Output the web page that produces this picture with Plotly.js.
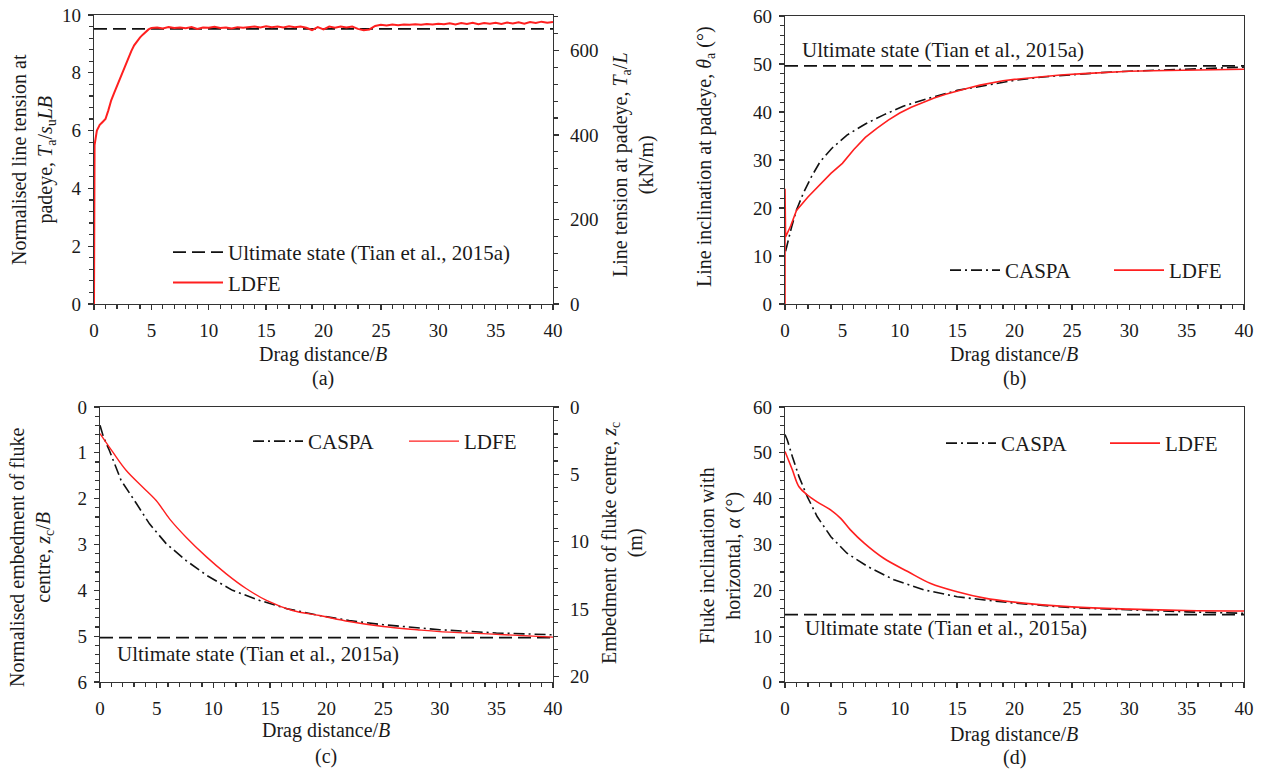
<!DOCTYPE html>
<html><head><meta charset="utf-8">
<script src="https://cdn.plot.ly/plotly-3.0.1.min.js"></script>
<style>html,body{margin:0;padding:0;background:#fff}#chart{width:1263px;height:771px}</style>
</head><body><div id="chart"></div>
<script>
// ---------- data ----------
const limitX = [0, 40];
// (a) line tension at padeye
const ultimateTensionA = 9.52;
const dragA_ldfe = [0,0,0.05,0.25,0.5,0.75,1.0,1.25,1.5,1.75,2.0,2.25,2.5,2.75,3.0,3.25,3.5,3.75,4.0,4.25,4.5,4.75,5.0,
  5.5,6,6.5,7,7.5,8,8.5,9,9.5,10,10.5,11,11.5,12,12.5,13,13.5,14,14.5,15,15.5,16,16.5,17,17.5,18,18.5,19,19.5,20,
  20.5,21,21.5,22,22.5,23,23.5,24,24.5,25,25.5,26,26.5,27,27.5,28,28.5,29,29.5,30,30.5,31,31.5,32,32.5,33,33.5,34,
  34.5,35,35.5,36,36.5,37,37.5,38,38.5,39,39.5,40];
const tensionA_ldfe = [0,5.45,5.5,6.0,6.2,6.3,6.4,6.7,7.05,7.3,7.55,7.8,8.05,8.3,8.55,8.75,8.95,9.1,9.22,9.32,9.42,9.5,9.55,
  9.57,9.53,9.58,9.55,9.57,9.54,9.58,9.52,9.57,9.56,9.59,9.55,9.57,9.53,9.58,9.56,9.59,9.6,9.57,9.61,9.58,9.6,9.57,9.61,9.58,9.6,9.56,9.48,9.58,9.5,
  9.6,9.56,9.6,9.57,9.6,9.52,9.47,9.5,9.62,9.66,9.64,9.67,9.65,9.67,9.66,9.68,9.66,9.69,9.67,9.7,9.68,9.71,9.67,9.72,9.69,9.73,9.68,9.72,
  9.7,9.73,9.69,9.74,9.71,9.75,9.7,9.76,9.72,9.77,9.73,9.76];
// (b) line inclination at padeye
const ultimateThetaB = 49.6;
const dragB_caspa = [0.05,0.3,0.58,1.0,1.6,2.3,3.05,4.07,5.4,7.0,8.6,10.3,12.6,15,17.3,20,22.5,25,27.5,30,32.5,35,37.5,40];
const thetaB_caspa = [11,13.5,16.1,19.6,23.1,26.5,29.6,32.4,35.2,37.5,39.4,41.2,42.9,44.5,45.5,46.6,47.3,47.8,48.2,48.5,48.75,48.95,49.15,49.35];
const dragB_ldfe = [0,0,0.05,0.5,1,2,3,4,5,6,7,8,9,10,11,12,13,14,15,16,17,18,19,20,22,24,26,28,30,32,34,36,38,40];
const thetaB_ldfe = [0,24,14,16.3,19.5,22.3,24.8,27.2,29.3,32.2,34.7,36.6,38.3,39.8,41.0,42.0,42.9,43.7,44.4,45.0,45.6,46.1,46.5,46.8,47.3,47.7,48.0,48.3,48.5,48.6,48.7,48.8,48.9,48.9];
// (c) normalised embedment of fluke centre
const ultimateDepthC = 5.03;
const dragC_caspa = [0,0.3,0.83,1.86,3.2,4.37,5.84,7.6,9.4,11.7,14.1,16.5,19.4,22,25,28,30,35,40];
const depthC_caspa = [0.4,0.65,0.95,1.6,2.1,2.55,2.98,3.35,3.67,4.0,4.22,4.4,4.55,4.66,4.75,4.82,4.86,4.93,4.97];
const dragC_ldfe = [0,1.12,2.3,3.78,4.96,6.14,7.6,9.4,11.15,12.9,14.7,17,19.4,22,25,28,30,35,40];
const depthC_ldfe = [0.58,0.98,1.38,1.75,2.04,2.44,2.84,3.27,3.64,3.96,4.22,4.44,4.55,4.68,4.79,4.86,4.9,4.96,5.02];
// (d) fluke inclination with horizontal
const ultimateAlphaD = 14.7;
const dragD_caspa = [0,0.2,0.64,1.22,1.95,2.8,4.0,5.4,7.2,9.5,12.1,15,17.4,20,25,30,35,40];
const alphaD_caspa = [54,52.8,49.2,44.8,40.4,36.1,31.7,28.1,25.2,22.3,20.1,18.6,17.9,17.2,16.2,15.7,15.3,15.0];
const dragD_ldfe = [0,0.64,1.22,1.95,2.8,4.0,4.85,5.7,6.9,8.6,10.7,12.7,15,17.4,19.7,25,30,35,40];
const alphaD_ldfe = [50.3,46.3,42.6,40.8,39.3,37.5,35.7,33.2,30.3,27.0,24.1,21.5,19.7,18.3,17.5,16.4,15.9,15.6,15.5];
// axis ranges
const rangeA = [0, 10], rangeA2 = [0, 684];
const rangeB = [0, 60];
const rangeC = [6, 0], rangeC2 = [20.4, 0];
const rangeD = [0, 60];

// ---------- styling ----------
const F = 'Liberation Serif, Times New Roman, serif';
const TXT = '#1a1a1a';
const AX = '#333';
const RED = '#ff1f1f';
const W = 1263, H = 771;
const px = v => v / W, py = v => 1 - v / H;

function axis(o) {
  return Object.assign({
    showline: true, linecolor: AX, linewidth: 1.3, ticks: 'outside', ticklen: 5, tickwidth: 1.3, tickcolor: AX,
    showgrid: false, zeroline: false, fixedrange: true, automargin: false,
    tickfont: {family: F, size: 19, color: TXT}
  }, o);
}
function minor(d) { return {ticks: 'outside', ticklen: 3.5, tickwidth: 1.2, tickcolor: AX, showgrid: false, dtick: d, tick0: 0}; }
function xax(dom, anchor) {
  return axis({domain: dom, anchor: anchor, range: limitX, dtick: 5, tick0: 0, mirror: true, minor: minor(1), ticklabelstandoff: 4});
}
function yax(dom, anchor, range, dtick, mdtick, extra) {
  return axis(Object.assign({domain: dom, anchor: anchor, range: range, dtick: dtick, tick0: 0, minor: minor(mdtick), ticklabelstandoff: 3}, extra || {}));
}

const dashed = {color: '#111', width: 1.8, dash: '13px,6px'};
const dashdot = {color: '#111', width: 1.6, dash: '11px,4px,2px,4px'};

const traces = [
  // (a)
  {x: limitX, y: [ultimateTensionA, ultimateTensionA], xaxis: 'x', yaxis: 'y', mode: 'lines', line: dashed,
   name: 'Ultimate state (Tian et al., 2015a)', legend: 'legend'},
  {x: dragA_ldfe, y: tensionA_ldfe, xaxis: 'x', yaxis: 'y', mode: 'lines', line: {color: RED, width: 2}, name: 'LDFE', legend: 'legend'},
  {x: [null], y: [null], xaxis: 'x', yaxis: 'y5', mode: 'lines', showlegend: false, hoverinfo: 'skip'},
  // (b)
  {x: limitX, y: [ultimateThetaB, ultimateThetaB], xaxis: 'x2', yaxis: 'y2', mode: 'lines', line: dashed, showlegend: false},
  {x: dragB_caspa, y: thetaB_caspa, xaxis: 'x2', yaxis: 'y2', mode: 'lines', line: dashdot, name: 'CASPA', legend: 'legend2'},
  {x: dragB_ldfe, y: thetaB_ldfe, xaxis: 'x2', yaxis: 'y2', mode: 'lines', line: {color: RED, width: 1.6}, name: 'LDFE', legend: 'legend2'},
  // (c)
  {x: limitX, y: [ultimateDepthC, ultimateDepthC], xaxis: 'x3', yaxis: 'y3', mode: 'lines', line: dashed, showlegend: false},
  {x: dragC_caspa, y: depthC_caspa, xaxis: 'x3', yaxis: 'y3', mode: 'lines', line: dashdot, name: 'CASPA', legend: 'legend3'},
  {x: dragC_ldfe, y: depthC_ldfe, xaxis: 'x3', yaxis: 'y3', mode: 'lines', line: {color: RED, width: 1.4, shape: 'spline'}, name: 'LDFE', legend: 'legend3'},
  {x: [null], y: [null], xaxis: 'x3', yaxis: 'y6', mode: 'lines', showlegend: false, hoverinfo: 'skip'},
  // (d)
  {x: limitX, y: [ultimateAlphaD, ultimateAlphaD], xaxis: 'x4', yaxis: 'y4', mode: 'lines', line: dashed, showlegend: false},
  {x: dragD_caspa, y: alphaD_caspa, xaxis: 'x4', yaxis: 'y4', mode: 'lines', line: dashdot, name: 'CASPA', legend: 'legend4'},
  {x: dragD_ldfe, y: alphaD_ldfe, xaxis: 'x4', yaxis: 'y4', mode: 'lines', line: {color: RED, width: 1.6, shape: 'spline'}, name: 'LDFE', legend: 'legend4'}
];

const domA = {x: [px(94), px(553)], y: [py(304), py(15)]};
const domB = {x: [px(785), px(1244)], y: [py(304), py(16)]};
const domC = {x: [px(100), px(553)], y: [py(682), py(407)]};
const domD = {x: [px(785), px(1244)], y: [py(682), py(407)]};

function legendCfg(x, y, o) {
  return Object.assign({x: px(x), y: py(y), xref: 'paper', yref: 'paper', xanchor: 'left', yanchor: 'top',
    font: {family: F, size: 21, color: TXT}, bgcolor: 'rgba(0,0,0,0)', itemwidth: 50, tracegroupgap: 0}, o || {});
}

function ann(text, x, y, o) {
  return Object.assign({text: text, x: px(x), y: py(y), xref: 'paper', yref: 'paper', showarrow: false,
    xanchor: 'center', yanchor: 'middle', font: {family: F, size: 20, color: TXT}}, o || {});
}
const big = {family: F, size: 21, color: TXT};

const layout = {
  width: W, height: H, margin: {l: 0, r: 0, t: 0, b: 0, pad: 0, autoexpand: false},
  paper_bgcolor: '#fff', plot_bgcolor: '#fff', hovermode: false,
  xaxis: xax(domA.x, 'y'),
  yaxis: yax(domA.y, 'x', rangeA, 2, 0.4),
  yaxis5: yax(domA.y, 'x', rangeA2, 200, 40, {overlaying: 'y', side: 'right', ticklabelstandoff: 7}),
  xaxis2: xax(domB.x, 'y2'),
  yaxis2: yax(domB.y, 'x2', rangeB, 10, 2, {mirror: true}),
  xaxis3: xax(domC.x, 'y3'),
  yaxis3: yax(domC.y, 'x3', rangeC, 1, 0.2),
  yaxis6: yax(domC.y, 'x3', rangeC2, 5, 1, {overlaying: 'y3', side: 'right', ticklabelstandoff: 7}),
  xaxis4: xax(domD.x, 'y4'),
  yaxis4: yax(domD.y, 'x4', rangeD, 10, 2, {mirror: true}),
  legend: legendCfg(168, 232),
  legend2: legendCfg(945, 250, {orientation: 'h', entrywidth: 99, entrywidthmode: 'pixels'}),
  legend3: legendCfg(248, 421, {orientation: 'h', entrywidth: 91, entrywidthmode: 'pixels'}),
  legend4: legendCfg(941, 423, {orientation: 'h', entrywidth: 99, entrywidthmode: 'pixels'}),
  annotations: [
    // x titles and captions
    ann('Drag distance/<i>B</i>', 323, 355), ann('(a)', 323, 378),
    ann('Drag distance/<i>B</i>', 1014, 355), ann('(b)', 1014, 378),
    ann('Drag distance/<i>B</i>', 326, 730), ann('(c)', 326, 756),
    ann('Drag distance/<i>B</i>', 1014, 734), ann('(d)', 1014, 757),
    // y titles
    ann('Normalised line tension at<br>padeye, <i>T</i><sub>a</sub>/<i>s</i><sub>u</sub><i>LB</i>', 33, 160, {textangle: -90}),
    ann('Line tension at padeye, <i>T</i><sub>a</sub>/<i>L</i><br>(kN/m)', 633, 165, {textangle: -90}),
    ann('Line inclination at padeye, <i>θ</i><sub>a</sub> (°)', 706, 157, {textangle: -90}),
    ann('Normalised embedment of fluke<br>centre, <i>z</i><sub>c</sub>/<i>B</i>', 31, 558, {textangle: -90}),
    ann('Embedment of fluke centre, <i>z</i><sub>c</sub><br>(m)', 622, 543, {textangle: -90}),
    ann('Fluke inclination with<br>horizontal, <i>α</i> (°)', 720, 556, {textangle: -90}),
    // ultimate state labels
    ann('Ultimate state (Tian et al., 2015a)', 800, 50, {xanchor: 'left', font: big}),
    ann('Ultimate state (Tian et al., 2015a)', 115, 654, {xanchor: 'left', font: big}),
    ann('Ultimate state (Tian et al., 2015a)', 803, 628, {xanchor: 'left', font: big})
  ]
};

Plotly.newPlot('chart', traces, layout, {staticPlot: true, displayModeBar: false});
</script>
</body></html>
